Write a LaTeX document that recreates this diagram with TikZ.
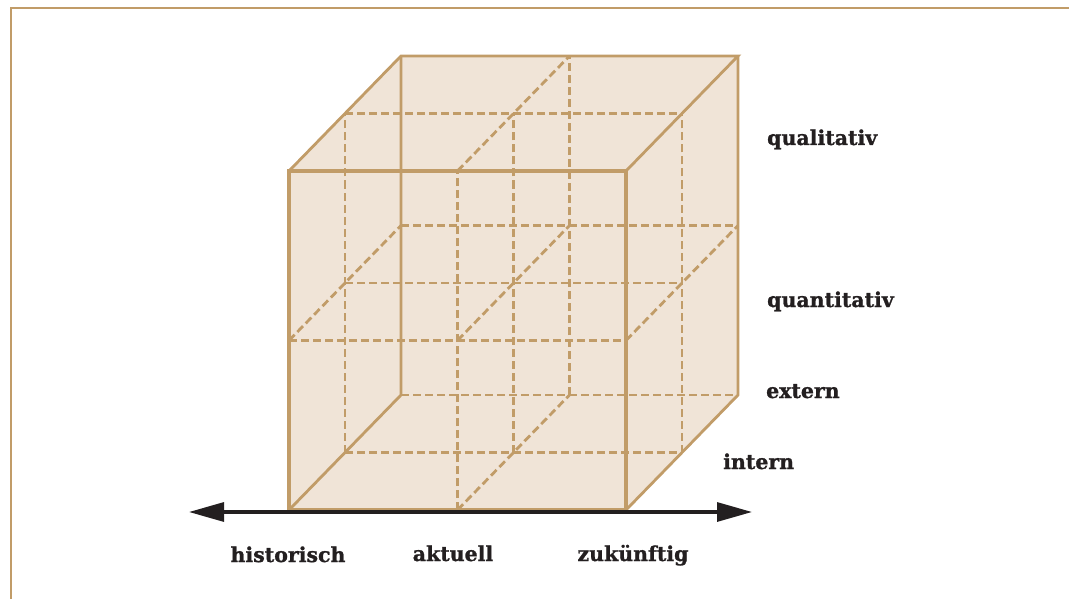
\documentclass[tikz,border=0pt]{standalone}
\usepackage{fontspec}
\setmainfont{DejaVu Serif}[BoldFeatures={FakeBold=1.2}]
\usetikzlibrary{arrows.meta}
\definecolor{tan}{RGB}{193,156,104}
\definecolor{cubefill}{RGB}{240,228,215}
\definecolor{ink}{RGB}{35,31,32}
\tikzset{
  cubefront/.style={draw=tan, line width=3.4pt, line join=miter},
  cubeline/.style={draw=tan, line width=2.8pt, line join=miter},
  cubedash/.style={draw=tan, line width=2.8pt, dash pattern=on 8pt off 4pt},
  axisarrow/.style={draw=ink, line width=3.2pt, {Triangle[length=35pt,width=19pt]}-{Triangle[length=35pt,width=19pt]}},
  lbl/.style={font=\fontsize{20.5}{22}\selectfont\bfseries, text=ink, inner sep=0pt},
  frameline/.style={draw=tan, line width=1.4pt}
}
\begin{document}
\begin{tikzpicture}[x=1pt,y=-1pt]
\useasboundingbox (0,0) rectangle (1069,599);
% frame
\coordinate (fa) at (11,599);
\coordinate (fb) at (11,8);
\coordinate (fc) at (1069,8);
\draw[frameline] (fa) -- (fb) -- (fc);
% grid points p<u><v><w>
\foreach \u in {0,1,2}{
  \foreach \v in {0,1,2}{
    \foreach \w in {0,1,2}{
      \coordinate (p\u\v\w) at ({289+168.5*\u+56*\w},{510-169.5*\v-57.5*\w});
    }
  }
}
% fill
\fill[cubefill] (p000) -- (p020) -- (p022) -- (p222) -- (p202) -- (p200) -- cycle;
% dashed lines along x (fixed v,w)
\foreach \v/\w in {1/0,0/1,1/1,2/1,0/2,1/2}{
  \draw[cubedash] (p0\v\w) -- (p2\v\w);
}
% dashed lines along y (fixed u,w)
\foreach \u/\w in {1/0,0/1,1/1,2/1,1/2}{
  \draw[cubedash] (p\u0\w) -- (p\u2\w);
}
% dashed lines along depth (fixed u,v)
\foreach \u/\v in {0/1,1/0,1/1,1/2,2/1}{
  \draw[cubedash] (p\u\v0) -- (p\u\v2);
}
% solid edges
\draw[cubeline] (p020) -- (p022) -- (p222) -- (p220);
\draw[cubeline] (p222) -- (p202) -- (p200);
\draw[cubeline] (p000) -- (p002) -- (p022);
% front face
\draw[cubefront] (p000) rectangle (p220);
% axis
\coordinate (aL) at (189,512);
\coordinate (aR) at (752,512);
\draw[axisarrow] (aL) -- (aR);
% labels
\node[lbl, anchor=base] (hist) at (288,562) {historisch};
\node[lbl, anchor=base] (akt) at (453,561) {aktuell};
\node[lbl, anchor=base] (zuk) at (633,561) {zukünftig};
\node[lbl, anchor=base west] (qual) at (767,145) {qualitativ};
\node[lbl, anchor=base west] (quant) at (767,307) {quantitativ};
\node[lbl, anchor=base west] (ext) at (766,398) {extern};
\node[lbl, anchor=base west] (int) at (723,469) {intern};
\end{tikzpicture}
\end{document}
